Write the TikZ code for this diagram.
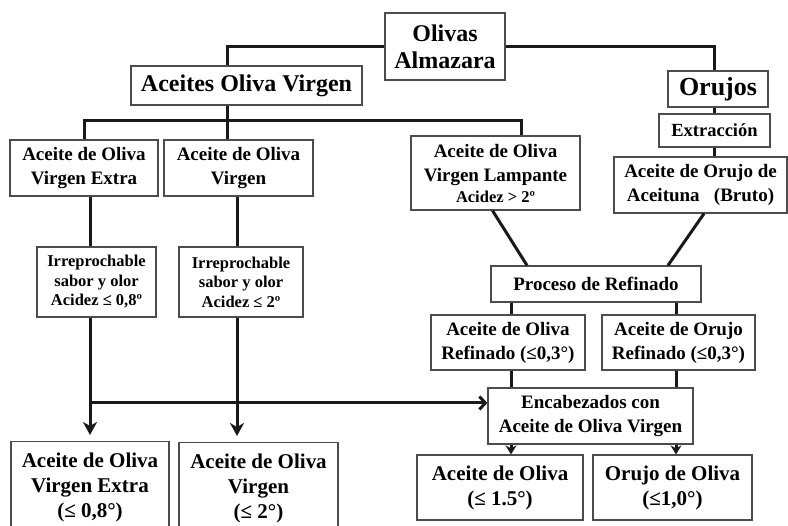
\documentclass[tikz,border=0pt]{standalone}
\usepackage{fontspec}
\setmainfont{Liberation Serif}
\usetikzlibrary{arrows.meta,calc}

\tikzset{
  box/.style={
    draw=black!70,
    line width=1.2pt,
    fill=white,
    align=center,
    inner sep=1pt
  },
  bigtext/.style={font=\bfseries\fontsize{24}{27}\selectfont},
  midtext/.style={font=\bfseries\fontsize{19}{24}\selectfont},
  smalltext/.style={font=\bfseries\fontsize{16.5}{19.5}\selectfont},
  bottext/.style={font=\bfseries\fontsize{21}{25}\selectfont},
  link/.style={
    line width=3pt,
    draw=black!90
  },
  arrow/.style={
    link,
    -{Stealth[length=13pt,width=14pt,inset=4pt]}
  },
  shortarrow/.style={
    link,
    -{Stealth[length=9pt,width=11pt,inset=3pt]}
  },
  openarrow/.style={
    link,
    -{Straight Barb[length=6pt,width=13pt]}
  }
}

\begin{document}
\begin{tikzpicture}[x=1pt,y=-1pt]
\useasboundingbox (0,0) rectangle (788,526);

% top levels
\node[box, bigtext, minimum width=120, minimum height=67] (olivas) at (445,46.5) {Olivas\\Almazara};
\node[box, bigtext, minimum width=231, minimum height=39] (aceites) at (246.5,85.5) {Aceites Oliva Virgen};
\node[box, font=\bfseries\fontsize{26}{29}\selectfont, minimum width=100, minimum height=36] (orujos) at (718,89) {Orujos};
\node[box, font=\bfseries\fontsize{18.5}{22}\selectfont, minimum width=111, minimum height=33] (extr) at (714.5,130.5) {Extracción};
\node[box, midtext, minimum width=173, minimum height=56] (bruto) at (700.5,185) {Aceite de Orujo de\\Aceituna\ \ \ (Bruto)};

% virgin oils
\node[box, midtext, minimum width=148, minimum height=56] (ve) at (84,168) {Aceite de Oliva\\Virgen Extra};
\node[box, midtext, minimum width=149, minimum height=56] (v) at (238.5,168) {Aceite de Oliva\\Virgen};
\node[box, midtext, minimum width=169, minimum height=74] (lamp) at (495.5,173) {Aceite de Oliva\\Virgen Lampante\\[-3pt]{\fontsize{16.5}{18}\selectfont Acidez > 2º}};
\node[box, smalltext, minimum width=119, minimum height=70] (irr1) at (96.5,282) {Irreprochable\\sabor y olor\\Acidez ≤ 0,8º};
\node[box, smalltext, minimum width=124, minimum height=70] (irr2) at (241,282) {Irreprochable\\sabor y olor\\Acidez ≤ 2º};

% refining
\node[box, midtext, minimum width=210, minimum height=36] (proc) at (596,284) {Proceso de Refinado};
\node[box, midtext, minimum width=154, minimum height=55] (refol) at (508,342.5) {Aceite de Oliva\\Refinado (≤0,3°)};
\node[box, midtext, minimum width=153, minimum height=55] (refor) at (678.5,342.5) {Aceite de Orujo\\Refinado (≤0,3°)};
\node[box, midtext, minimum width=205, minimum height=56] (enc) at (590.5,416) {Encabezados con\\Aceite de Oliva Virgen};

% final products
\node[box, bottext, minimum width=158, minimum height=92, anchor=north] (b1) at (90,441) {Aceite de Oliva\\Virgen Extra\\(≤ 0,8°)};
\node[box, bottext, minimum width=159, minimum height=92, anchor=north] (b2) at (258.5,442) {Aceite de Oliva\\Virgen\\(≤ 2°)};
\node[box, bottext, minimum width=166, minimum height=65] (ao) at (500,487.5) {Aceite de Oliva\\(≤ 1.5°)};
\node[box, bottext, minimum width=159, minimum height=65] (oo) at (672.5,487.5) {Orujo de Oliva\\(≤1,0°)};

% columns of the connectors
\coordinate (trunk) at (227,121);
\coordinate (busend) at (521,121);
\coordinate (orcol) at (714,0);
\coordinate (join) at (90,403);
\coordinate (vcol) at (237,0);
\coordinate (lcol) at (511,0);
\coordinate (rcol) at (676,0);

\draw[link] (olivas.west) -| (trunk |- aceites.north);
\draw[link] (olivas.east) -| (orcol |- orujos.north);
\draw[link] (orcol |- orujos.south) -- (orcol |- extr.north);
\draw[link] (orcol |- extr.south) -- (orcol |- bruto.north);
\draw[link] (trunk |- aceites.south) -- (trunk |- v.north);
\draw[link] (ve.north) |- (busend) -- (busend |- lamp.north);

\draw[link] (join |- ve.south) -- (join |- irr1.north);
\draw[link] (vcol |- v.south) -- (vcol |- irr2.north);
\draw[arrow, shorten >=6pt] (join |- irr1.south) -- (join |- b1.north);
\draw[arrow, shorten >=6pt] (vcol |- irr2.south) -- (vcol |- b2.north);
\draw[openarrow] (join) -- (join -| enc.west);

\draw[link] ([xshift=-3pt]lamp.south) -- ([xshift=-69pt]proc.north);
\draw[link] ([xshift=3.5pt]bruto.south) -- ([xshift=72pt]proc.north);
\draw[link] (lcol |- proc.south) -- (lcol |- refol.north);
\draw[link] (rcol |- proc.south) -- (rcol |- refor.north);
\draw[link] (lcol |- refol.south) -- (lcol |- enc.north);
\draw[link] (rcol |- refor.south) -- (rcol |- enc.north);
\draw[shortarrow] (lcol |- enc.south) -- (lcol |- ao.north);
\draw[shortarrow] (rcol |- enc.south) -- (rcol |- oo.north);
\end{tikzpicture}
\end{document}
